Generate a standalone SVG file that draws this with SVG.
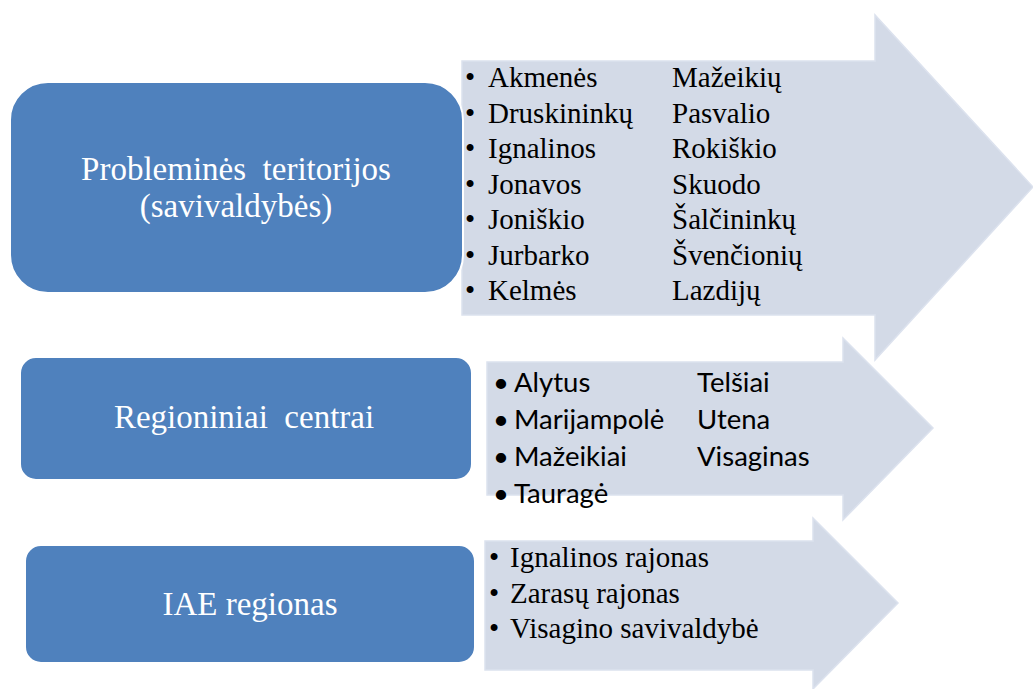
<svg xmlns="http://www.w3.org/2000/svg" width="1033" height="689" viewBox="0 0 1033 689">
<style>
.arrow{fill:#D3DAE7;stroke:#DCE2EE;stroke-width:1.5}
.box{fill:#4F81BD;stroke:#FFFFFF;stroke-width:2}
.title{font-family:"Liberation Serif","Times New Roman",serif;font-size:33px;fill:#FFFFFF;text-anchor:middle}
.ser{font-family:"Liberation Serif","Times New Roman",serif;font-size:29px;fill:#000000}
.san{font-family:Lato,"Open Sans",sans-serif;font-size:27.5px;fill:#000000}
</style>
<rect width="1033" height="689" fill="#FFFFFF"/>
<g id="connectors"/>
<g id="node-probleminės">
<polygon class="arrow" points="462,61 875,61 875,15 1033,187 875,360 875,315 462,315"/>
<rect class="box" x="10" y="82" width="453" height="211" rx="38" ry="38"/>
<text class="title" x="236" y="180" xml:space="preserve">Probleminės  teritorijos</text>
<text class="title" x="236" y="217">(savivaldybės)</text>
<g class="ser">
<text x="465" y="87">•</text><text x="488" y="87">Akmenės</text><text x="672" y="87">Mažeikių</text>
<text x="465" y="123">•</text><text x="488" y="123">Druskininkų</text><text x="672" y="123">Pasvalio</text>
<text x="465" y="158">•</text><text x="488" y="158">Ignalinos</text><text x="672" y="158">Rokiškio</text>
<text x="465" y="194">•</text><text x="488" y="194">Jonavos</text><text x="672" y="194">Skuodo</text>
<text x="465" y="229">•</text><text x="488" y="229">Joniškio</text><text x="672" y="229">Šalčininkų</text>
<text x="465" y="265">•</text><text x="488" y="265">Jurbarko</text><text x="672" y="265">Švenčionių</text>
<text x="465" y="300">•</text><text x="488" y="300">Kelmės</text><text x="672" y="300">Lazdijų</text>
</g>
</g>
<g id="node-regioniniai">
<polygon class="arrow" points="487,362 843,362 843,338 933,428 843,520 843,495 487,495"/>
<rect class="box" x="20" y="357" width="452" height="123" rx="16" ry="16"/>
<text class="title" x="244" y="428" xml:space="preserve">Regioniniai  centrai</text>
<g class="san">
<text x="493" y="392">•</text><text x="514" y="392">Alytus</text><text x="697" y="392">Telšiai</text>
<text x="493" y="429">•</text><text x="514" y="429">Marijampolė</text><text x="697" y="429">Utena</text>
<text x="493" y="466">•</text><text x="514" y="466">Mažeikiai</text><text x="697" y="466">Visaginas</text>
<text x="493" y="503">•</text><text x="514" y="503">Tauragė</text>
</g>
</g>
<g id="node-iae">
<polygon class="arrow" points="485,541 813,541 813,518 898,603 813,689 813,670 485,670"/>
<rect class="box" x="25" y="545" width="450" height="118" rx="16" ry="16"/>
<text class="title" x="250" y="615">IAE regionas</text>
<g class="ser">
<text x="489" y="567">•</text><text x="510" y="567">Ignalinos rajonas</text>
<text x="489" y="603">•</text><text x="510" y="603">Zarasų rajonas</text>
<text x="489" y="638">•</text><text x="510" y="638">Visagino savivaldybė</text>
</g>
</g>
</svg>
